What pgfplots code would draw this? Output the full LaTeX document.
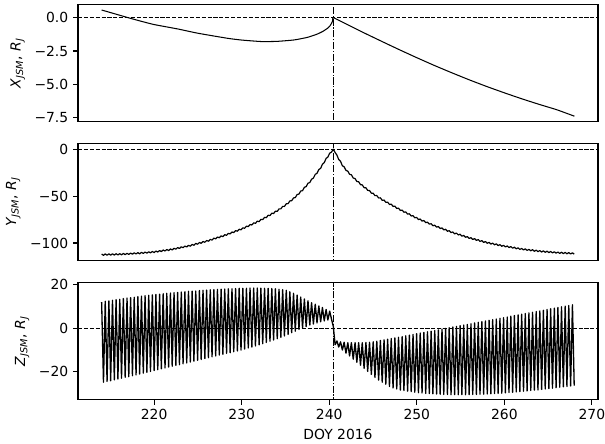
\documentclass[border=0pt]{standalone}
\usepackage{pgfplots}
\usepackage{pgfplotstable}
\pgfplotsset{compat=1.18}
\usepackage{fontspec}
\setmainfont{DejaVu Sans}

\pgfplotstableread{
t z y
214.00 12.1 -111.7
214.21 -24.8 -113.1
214.41 12.4 -111.6
214.62 -24.4 -113.0
214.83 12.6 -111.5
215.03 -24.1 -112.9
215.24 12.9 -111.5
215.45 -23.7 -112.8
215.65 13.2 -111.4
215.86 -23.3 -112.7
216.07 13.4 -111.3
216.27 -22.9 -112.6
216.48 13.7 -111.1
216.69 -22.5 -112.4
216.90 13.9 -110.9
217.10 -22.2 -112.2
217.31 14.1 -110.7
217.52 -21.8 -111.9
217.72 14.3 -110.4
217.93 -21.4 -111.7
218.14 14.6 -110.2
218.34 -21.0 -111.5
218.55 14.8 -109.9
218.76 -20.6 -111.1
218.96 15.0 -109.6
219.17 -20.2 -110.8
219.38 15.2 -109.3
219.58 -19.8 -110.5
219.79 15.4 -109.0
220.00 -19.4 -110.2
220.20 15.6 -108.5
220.41 -19.0 -109.6
220.62 15.7 -108.0
220.82 -18.6 -109.1
221.03 15.9 -107.4
221.24 -18.2 -108.5
221.44 16.1 -106.9
221.65 -17.8 -108.0
221.86 16.2 -106.3
222.06 -17.4 -107.4
222.27 16.4 -105.6
222.48 -17.0 -106.6
222.68 16.5 -104.8
222.89 -16.7 -105.8
223.10 16.7 -104.0
223.30 -16.3 -105.0
223.51 16.8 -103.2
223.72 -15.9 -104.2
223.92 17.0 -102.5
224.13 -15.5 -103.4
224.34 17.1 -101.5
224.54 -15.1 -102.4
224.75 17.2 -100.4
224.96 -14.7 -101.3
225.17 17.4 -99.4
225.37 -14.3 -100.3
225.58 17.5 -98.4
225.79 -13.9 -99.2
225.99 17.6 -97.3
226.20 -13.5 -98.1
226.41 17.7 -96.1
226.61 -13.1 -96.9
226.82 17.8 -94.8
227.03 -12.7 -95.6
227.23 17.9 -93.6
227.44 -12.3 -94.4
227.65 18.0 -92.4
227.85 -11.9 -93.2
228.06 18.1 -91.1
228.27 -11.5 -91.8
228.47 18.2 -89.7
228.68 -11.2 -90.3
228.89 18.2 -88.2
229.09 -10.8 -88.9
229.30 18.3 -86.8
229.51 -10.4 -87.4
229.71 18.4 -85.3
229.92 -10.0 -86.0
230.13 18.4 -83.8
230.33 -9.5 -84.3
230.54 18.4 -82.0
230.75 -9.0 -82.5
230.95 18.5 -80.3
231.16 -8.6 -80.8
231.37 18.5 -78.5
231.57 -8.1 -79.0
231.78 18.5 -76.7
231.99 -7.6 -77.2
232.19 18.5 -74.8
232.40 -7.1 -75.1
232.61 18.4 -72.6
232.81 -6.5 -73.0
233.02 18.4 -70.4
233.23 -5.9 -70.7
233.44 18.3 -68.2
233.64 -5.4 -68.6
233.85 18.2 -66.1
234.06 -4.8 -66.3
234.26 18.0 -63.6
234.47 -4.1 -63.6
234.68 17.8 -60.9
234.88 -3.5 -61.0
235.09 17.5 -58.1
235.30 -2.8 -58.0
235.50 16.8 -55.1
235.71 -2.0 -54.9
235.92 16.1 -51.9
236.12 -1.3 -51.6
236.33 15.3 -48.3
236.54 -0.5 -47.8
236.74 14.4 -44.6
236.95 0.2 -44.2
237.16 13.5 -40.6
237.36 0.8 -39.9
237.57 12.7 -36.3
237.78 1.5 -35.5
237.98 11.8 -32.0
238.19 2.0 -30.8
238.40 11.1 -26.8
238.60 2.5 -25.7
238.81 10.3 -21.7
239.02 3.0 -20.4
239.22 9.6 -16.0
239.43 3.4 -14.3
239.64 8.7 -9.8
239.84 3.8 -8.4
240.05 7.9 -4.2
240.26 4.2 -3.1
240.46 1.0 0.0
240.67 -7.5 -3.5
240.88 -5.8 -6.3
241.08 -8.6 -11.0
241.29 -6.2 -12.9
241.50 -10.0 -17.7
241.70 -6.4 -18.7
241.91 -11.4 -22.6
242.12 -6.6 -23.4
242.32 -12.7 -26.7
242.53 -6.6 -27.3
242.74 -14.2 -30.7
242.95 -6.6 -31.3
243.15 -15.6 -34.4
243.36 -6.6 -34.7
243.57 -17.0 -37.8
243.77 -6.6 -38.0
243.98 -18.4 -41.0
244.19 -6.5 -41.1
244.39 -19.8 -43.9
244.60 -6.4 -44.0
244.81 -21.2 -46.9
245.02 -6.2 -46.9
245.22 -22.6 -49.5
245.43 -5.9 -49.4
245.64 -23.8 -52.0
245.84 -5.6 -51.8
246.05 -24.8 -54.5
246.26 -5.3 -54.2
246.46 -25.7 -56.6
246.67 -5.0 -56.4
246.88 -26.7 -58.9
247.08 -4.7 -58.5
247.29 -27.4 -61.0
247.50 -4.4 -60.7
247.71 -27.9 -63.2
247.91 -4.1 -62.8
248.12 -28.4 -65.3
248.33 -3.8 -64.9
248.53 -28.6 -67.2
248.74 -3.4 -66.8
248.95 -28.9 -69.2
249.15 -3.1 -68.8
249.36 -29.1 -71.2
249.57 -2.8 -70.8
249.77 -29.4 -73.1
249.98 -2.5 -72.7
250.19 -29.6 -75.0
250.39 -2.2 -74.4
250.60 -29.7 -76.6
250.81 -1.9 -76.0
251.02 -29.9 -78.3
251.22 -1.6 -77.7
251.43 -30.0 -79.9
251.64 -1.3 -79.4
251.84 -30.1 -81.6
252.05 -1.0 -81.0
252.26 -30.2 -83.1
252.46 -0.7 -82.4
252.67 -30.3 -84.5
252.88 -0.3 -83.9
253.08 -30.4 -86.0
253.29 0.0 -85.3
253.50 -30.4 -87.5
253.70 0.3 -86.8
253.91 -30.5 -88.9
254.12 0.6 -88.2
254.32 -30.5 -90.2
254.53 0.9 -89.4
254.74 -30.5 -91.4
254.95 1.2 -90.6
255.15 -30.5 -92.7
255.36 1.5 -91.9
255.57 -30.5 -93.9
255.77 1.8 -93.1
255.98 -30.5 -95.1
256.19 2.1 -94.3
256.39 -30.4 -96.2
256.60 2.5 -95.3
256.81 -30.4 -97.2
257.02 2.8 -96.3
257.22 -30.3 -98.3
257.43 3.1 -97.4
257.64 -30.3 -99.3
257.84 3.4 -98.4
258.05 -30.2 -100.3
258.26 3.7 -99.3
258.46 -30.1 -101.1
258.67 4.0 -100.1
258.88 -30.0 -101.9
259.08 4.3 -100.9
259.29 -29.9 -102.7
259.50 4.6 -101.7
259.71 -29.8 -103.5
259.91 4.9 -102.4
260.12 -29.7 -104.2
260.33 5.2 -103.1
260.53 -29.5 -104.8
260.74 5.6 -103.8
260.95 -29.4 -105.5
261.15 5.9 -104.4
261.36 -29.2 -106.2
261.57 6.2 -105.1
261.77 -29.1 -106.8
261.98 6.5 -105.8
262.19 -28.9 -107.4
262.39 6.8 -106.2
262.60 -28.8 -107.9
262.81 7.1 -106.7
263.02 -28.6 -108.3
263.22 7.4 -107.1
263.43 -28.4 -108.8
263.64 7.7 -107.6
263.84 -28.3 -109.2
264.05 8.0 -108.0
264.26 -28.1 -109.6
264.46 8.3 -108.3
264.67 -27.9 -109.9
264.88 8.7 -108.7
265.09 -27.7 -110.2
265.29 9.0 -109.0
265.50 -27.5 -110.5
265.71 9.3 -109.3
265.91 -27.3 -110.8
266.12 9.6 -109.6
266.33 -27.1 -111.1
266.53 9.9 -109.8
266.74 -26.9 -111.3
266.95 10.2 -110.0
267.15 -26.7 -111.5
267.36 10.5 -110.2
267.57 -26.5 -111.7
267.78 10.8 -110.4
267.98 -26.3 -111.9
}\zydata

\pgfplotstableread{
t x
214.00 0.57
215.00 0.38
216.00 0.19
217.00 0.00
218.50 -0.27
220.00 -0.52
222.70 -0.85
225.00 -1.17
228.40 -1.55
230.00 -1.68
232.20 -1.79
234.00 -1.78
236.00 -1.67
237.50 -1.48
238.60 -1.24
239.30 -1.02
239.80 -0.80
240.10 -0.60
240.30 -0.38
240.40 -0.20
240.46 0.00
242.00 -0.50
244.00 -1.15
246.00 -1.78
248.00 -2.40
250.00 -3.00
252.00 -3.58
254.00 -4.13
256.00 -4.66
258.00 -5.16
260.00 -5.63
262.00 -6.08
264.00 -6.50
266.00 -6.90
268.00 -7.38
}\xdata

\pgfplotsset{
  panel/.style={
    scale only axis, width=374.4pt, height=84.24pt,
    xmin=211.3, xmax=270.7,
    axis line style={line width=0.8pt},
    tick style={line width=0.8pt, black},
    tick align=outside, major tick length=3.5pt,
    tick pos=left,
    /pgf/number format/assume math mode=true,
    ylabel style={font=\normalsize},
    every tick label/.append style={font=\normalsize},
  },
  zline/.style={black, line width=0.8pt, dash pattern=on 2.96pt off 1.28pt},
  vline/.style={black, line width=0.8pt, dash pattern=on 5.12pt off 1.28pt on 0.8pt off 1.28pt},
  dline/.style={black, line width=0.75pt},
  oline/.style={black, line width=0.95pt, line join=round},
}

\begin{document}
\begin{tikzpicture}
\useasboundingbox (-56.16pt,-31.2pt) rectangle (379.44pt,287.76pt);

\begin{axis}[panel, name=p1, at={(0pt,200.16pt)}, anchor=south west,
  ymin=-7.79, ymax=0.97,
  xtick=\empty,
  ytick={-7.5,-5,-2.5,0}, yticklabels={−7.5,−5.0,−2.5,0.0},
  ylabel={\textit{X}\textsubscript{\textit{JSM}}, \textit{R}\textsubscript{\textit{J}}}]
\addplot[dline, smooth, tension=0.3] table[x=t, y=x] {\xdata};
\addplot[zline] coordinates {(211.3,0) (270.7,0)};
\addplot[vline] coordinates {(240.46,-20) (240.46,20)};
\end{axis}

\begin{axis}[panel, name=p2, at={(0pt,100.08pt)}, anchor=south west,
  ymin=-118.8, ymax=5.9,
  xtick=\empty,
  ytick={-100,-50,0}, yticklabels={−100,−50,0},
  ylabel={\textit{Y}\textsubscript{\textit{JSM}}, \textit{R}\textsubscript{\textit{J}}}]
\addplot[oline, line width=0.85pt] table[x=t, y=y] {\zydata};
\addplot[zline] coordinates {(211.3,0) (270.7,0)};
\addplot[vline] coordinates {(240.46,-200) (240.46,200)};
\end{axis}

\begin{axis}[panel, name=p3, at={(0pt,0pt)}, anchor=south west,
  ymin=-32.8, ymax=21,
  xtick={220,230,240,250,260,270}, xticklabels={220,230,240,250,260,270},
  ytick={-20,0,20}, yticklabels={−20,0,20},
  xlabel={DOY 2016},
  ylabel={\textit{Z}\textsubscript{\textit{JSM}}, \textit{R}\textsubscript{\textit{J}}}]
\addplot[oline] table[x=t, y=z] {\zydata};
\addplot[zline] coordinates {(211.3,0) (270.7,0)};
\addplot[vline] coordinates {(240.46,-100) (240.46,100)};
\end{axis}
\end{tikzpicture}
\end{document}
